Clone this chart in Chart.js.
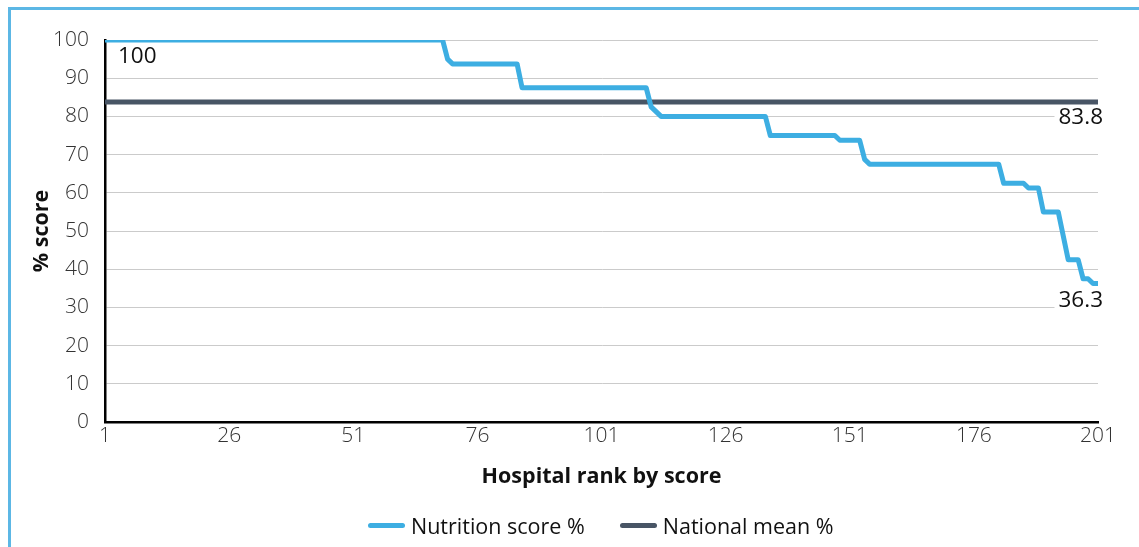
<!DOCTYPE html>
<html>
<head>
<meta charset="utf-8">
<script src="https://cdn.jsdelivr.net/npm/chart.js@4.4.1/dist/chart.umd.min.js"></script>
<style>
  html, body { margin: 0; padding: 0; background: #fff; overflow: hidden; }
  #wrap { position: relative; width: 1139px; height: 547px; }
  #frame { position: absolute; left: 8px; top: 7px; width: 1200px; height: 600px;
           border-left: 3px solid #5cb7e5; border-top: 3px solid #5cb7e5; box-sizing: border-box; }
  canvas { position: absolute; left: 0; top: 0; }
  #legend { position: absolute; top: 510px; left: 368px; height: 30px; display: flex; align-items: center;
            font: 21.5px 'Open Sans', sans-serif; color: #111; white-space: nowrap; }
  .item { display: flex; align-items: center; margin-right: 35px; }
  .swatch { width: 37px; height: 5px; border-radius: 3px; margin-right: 6px; }
</style>
</head>
<body>
<div id="wrap">
  <div id="frame"></div>
  <canvas id="chart" width="1139" height="547"></canvas>
  <div id="legend"></div>
</div>
<script>
/* ============ DATA ============ */
// step corners of the ranked nutrition score curve
const ranks  = [1, 69, 70, 71, 84, 85, 110, 111, 113, 134, 135, 148, 149, 153, 154, 155,
                181, 182, 186, 187, 189, 190, 193, 195, 197, 198, 199, 200, 201];
const scores = [100, 100, 95, 93.75, 93.75, 87.5, 87.5, 82.5, 80, 80, 75, 75, 73.75, 73.75, 68.75, 67.5,
                67.5, 62.5, 62.5, 61.25, 61.25, 55, 55, 42.5, 42.5, 37.5, 37.5, 36.25, 36.25];
const meanRanks = [1, 201];
const meanScore = 83.8;
const xTicks = [1, 26, 51, 76, 101, 126, 151, 176, 201];
const seriesNames = ['Nutrition score %', 'National mean %'];

/* ============ STYLE ============ */
const BLUE = '#3daee2';
const SLATE = '#485565';
const FONT = "'Open Sans', sans-serif";
Chart.defaults.font.family = FONT;
Chart.defaults.color = '#333';

const fmt = v => Number.isInteger(v) ? String(v) : v.toFixed(1);

/* ============ PLUGINS ============ */
const valueLabels = {
  id: 'valueLabels',
  afterDatasetsDraw(chart) {
    const { ctx, scales: { x, y } } = chart;
    const last = ranks.length - 1;
    ctx.save();
    ctx.font = '500 22.5px ' + FONT;
    ctx.textBaseline = 'middle';

    const label = (txt, px, py, align) => {
      const w = ctx.measureText(txt).width;
      const left = align === 'right' ? px - w : px;
      ctx.fillStyle = '#fff';
      ctx.fillRect(left - 4, py - 12, w + 6, 24);
      ctx.fillStyle = '#111';
      ctx.textAlign = align;
      ctx.fillText(txt, px, py);
    };

    label(fmt(scores[0]), x.getPixelForValue(ranks[0]) + 13, y.getPixelForValue(scores[0]) + 17, 'left');
    label(fmt(meanScore), x.getPixelForValue(meanRanks[1]) + 5, y.getPixelForValue(meanScore) + 16, 'right');
    label(fmt(scores[last]), x.getPixelForValue(ranks[last]) + 5, y.getPixelForValue(scores[last]) + 17, 'right');
    ctx.restore();
  }
};

const htmlLegend = {
  id: 'htmlLegend',
  afterUpdate(chart) {
    const items = chart.options.plugins.legend.labels.generateLabels(chart);
    document.getElementById('legend').innerHTML = items.map(it => `
      <span class="item"><span class="swatch" style="background:${it.strokeStyle}"></span>${it.text}</span>
    `).join('');
  }
};

/* ============ CHART ============ */
new Chart(document.getElementById('chart'), {
  type: 'line',
  data: {
    datasets: [
      {
        label: seriesNames[0],
        data: ranks.map((r, i) => ({ x: r, y: scores[i] })),
        borderColor: BLUE,
        backgroundColor: BLUE,
        borderWidth: 5,
        borderCapStyle: 'round',
        borderJoinStyle: 'round',
        pointRadius: 0,
        tension: 0
      },
      {
        label: seriesNames[1],
        data: meanRanks.map(r => ({ x: r, y: meanScore })),
        borderColor: SLATE,
        backgroundColor: SLATE,
        borderWidth: 5,
        borderCapStyle: 'round',
        pointRadius: 0
      }
    ]
  },
  options: {
    responsive: false,
    animation: false,
    events: [],
    layout: { padding: { top: 40, right: 41, bottom: 55, left: 0 } },
    plugins: { legend: { display: false }, tooltip: { enabled: false } },
    scales: {
      x: {
        type: 'linear',
        min: 1, max: 201,
        afterBuildTicks: s => { s.ticks = xTicks.map(v => ({ value: v })); },
        afterFit: s => { s.height = 70; },
        grid: { display: false, drawTicks: false },
        border: { color: '#000', width: 2.5 },
        ticks: { color: '#333', padding: 1, maxRotation: 0, font: { size: 21, weight: 300 } },
        title: { display: true, text: 'Hospital rank by score', color: '#111',
                 font: { size: 21.5, weight: 'bold' }, padding: { top: 0, bottom: 2 } }
      },
      y: {
        min: 0, max: 100,
        afterFit: s => { s.width = 105; },
        grid: { color: '#cbcbcb', lineWidth: 1, drawTicks: false },
        border: { color: '#000', width: 2.5 },
        ticks: { stepSize: 10, color: '#333', padding: 16, font: { size: 21, weight: 300 } },
        title: { display: true, text: '% score', color: '#111',
                 font: { size: 21.5, weight: 'bold' }, padding: { top: 29, bottom: 0 } }
      }
    }
  },
  plugins: [valueLabels, htmlLegend]
});
</script>
</body>
</html>
